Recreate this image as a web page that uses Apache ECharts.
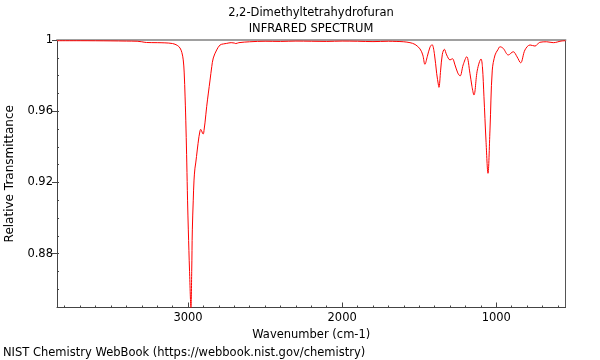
<!DOCTYPE html>
<html>
<head>
<meta charset="utf-8">
<script src="https://cdn.jsdelivr.net/npm/echarts@6/dist/echarts.min.js"></script>
<style>html,body{margin:0;padding:0;background:#fff;}#c{width:600px;height:360px;}</style>
</head>
<body>
<div id="c"></div>
<script>
// Data
var wavenumbers = [3850,3700,3500,3400,3330,3300,3270,3200,3150,3100,3070,3052,3040,3031,3025,3019,3013,3008,3003,2998,2990,2981,2976,2972,2966,2961,2955,2950,2940,2929,2922,2918,2912,2905,2901,2895,2890,2879,2868,2857,2846,2836,2814,2792,2770,2749,2720,2700,2690,2670,2600,2500,2400,2300,2200,2100,2000,1900,1800,1700,1650,1600,1560,1527,1495,1477,1463,1448,1430,1417,1402,1387,1375,1372,1361,1350,1337,1322,1300,1285,1268,1250,1235,1215,1192,1171,1158,1145,1123,1099,1090,1080,1067,1054,1041,1026,1008,990,976,955,922,890,865,842,814,781,749,718,673,630,580,551];
var transmittance = [0.9996,0.9996,0.9995,0.9994,0.9993,0.9990,0.9986,0.9985,0.9984,0.9980,0.9970,0.9955,0.9930,0.9888,0.9820,0.9680,0.9500,0.9309,0.9100,0.8933,0.8700,0.8497,0.8700,0.8933,0.9100,0.9213,0.9280,0.9309,0.9382,0.9457,0.9490,0.9498,0.9490,0.9474,0.9472,0.9500,0.9534,0.9625,0.9702,0.9775,0.9850,0.9899,0.9944,0.9972,0.9978,0.9981,0.9985,0.9983,0.9980,0.9985,0.9990,0.9993,0.9992,0.9994,0.9993,0.9992,0.9994,0.9993,0.9991,0.9993,0.9992,0.9990,0.9985,0.9975,0.9950,0.9916,0.9863,0.9906,0.9960,0.9974,0.9925,0.9813,0.9745,0.9734,0.9831,0.9920,0.9948,0.9916,0.9888,0.9895,0.9860,0.9815,0.9798,0.9860,0.9906,0.9813,0.9740,0.9691,0.9831,0.9893,0.9850,0.9681,0.9438,0.9251,0.9494,0.9831,0.9916,0.9945,0.9962,0.9953,0.9916,0.9934,0.9905,0.9872,0.9944,0.9972,0.9966,0.9987,0.9990,0.9985,0.9994,0.9996];
var xLabelTicks = [1000, 2000, 3000];
var yLabelTicks = [0.88, 0.92, 0.96, 1];
var xRange = [551, 3850];
var yRange = [0.8497, 1];

var xMinor = [];
for (var w = 600; w <= 3800; w += 100) xMinor.push(w);
var yMinor = [];
for (var i = 86; i <= 99; i++) yMinor.push(i / 100);

var pts = wavenumbers.map(function (w, k) { return [w, transmittance[k]]; });
var FONT = 'DejaVu Sans';
var FS = 11.5;
var chart = echarts.init(document.getElementById('c'));
chart.setOption({
  animation: false,
  grid: { left: 57, right: 34.5, top: 40, bottom: 52.5, outerBoundsMode: 'none' },
  graphic: [
    { type: 'text', x: 311, y: 13, style: { text: '2,2-Dimethyltetrahydrofuran', font: FS + 'px "DejaVu Sans"', fill: '#000', align: 'center', verticalAlign: 'middle' } },
    { type: 'text', x: 311, y: 29.5, style: { text: 'INFRARED SPECTRUM', font: FS + 'px "DejaVu Sans"', fill: '#000', align: 'center', verticalAlign: 'middle' } },
    { type: 'text', x: 3, y: 353, style: { text: 'NIST Chemistry WebBook (https://webbook.nist.gov/chemistry)', font: FS + 'px "DejaVu Sans"', fill: '#000', align: 'left', verticalAlign: 'middle' } }
  ],
  xAxis: [
    { type: 'value', min: xRange[0], max: xRange[1], inverse: true, position: 'bottom',
      name: 'Wavenumber (cm-1)', nameLocation: 'middle', nameGap: 19,
      nameTextStyle: { fontFamily: FONT, fontSize: FS, color: '#000' },
      axisLine: { show: true, lineStyle: { color: '#444', width: 1 } },
      axisTick: { show: true, inside: true, length: 5, customValues: xLabelTicks, lineStyle: { color: '#444' } },
      axisLabel: { customValues: xLabelTicks, fontFamily: FONT, fontSize: FS, color: '#000', margin: 5,
        formatter: function (v) { return String(Math.round(v)); } },
      splitLine: { show: false } },
    { type: 'value', min: xRange[0], max: xRange[1], inverse: true, position: 'bottom',
      axisLine: { show: false },
      axisTick: { show: true, inside: true, length: 2, customValues: xMinor, lineStyle: { color: '#444' } },
      axisLabel: { show: false }, splitLine: { show: false } },
    { type: 'value', min: xRange[0], max: xRange[1], inverse: true, position: 'top',
      axisLine: { show: true, lineStyle: { color: '#a0a0a0', width: 2 } },
      axisTick: { show: false }, axisLabel: { show: false }, splitLine: { show: false } }
  ],
  yAxis: [
    { type: 'value', min: yRange[0], max: yRange[1], position: 'left',
      name: 'Relative Transmittance', nameLocation: 'middle', nameGap: 41,
      nameTextStyle: { fontFamily: FONT, fontSize: 12, color: '#000' },
      axisLine: { show: true, lineStyle: { color: '#444', width: 1 } },
      axisTick: { show: true, inside: false, length: 5, customValues: yLabelTicks, lineStyle: { color: '#444' } },
      axisLabel: { customValues: yLabelTicks, fontFamily: FONT, fontSize: FS, color: '#000', margin: 4,
        formatter: function (v) { return String(+(+v).toFixed(2)); } },
      splitLine: { show: false } },
    { type: 'value', min: yRange[0], max: yRange[1], position: 'left',
      axisLine: { show: false },
      axisTick: { show: true, inside: true, length: 2, customValues: yMinor, lineStyle: { color: '#444' } },
      axisLabel: { show: false }, splitLine: { show: false } },
    { type: 'value', min: yRange[0], max: yRange[1], position: 'right',
      axisLine: { show: true, lineStyle: { color: '#555', width: 1 } },
      axisTick: { show: false }, axisLabel: { show: false }, splitLine: { show: false } }
  ],
  series: [{
    type: 'line', xAxisIndex: 0, yAxisIndex: 0, data: pts, showSymbol: false,
    smooth: 0.35, clip: true,
    lineStyle: { color: '#ff0000', width: 1 }
  }]
});
</script>
</body>
</html>
